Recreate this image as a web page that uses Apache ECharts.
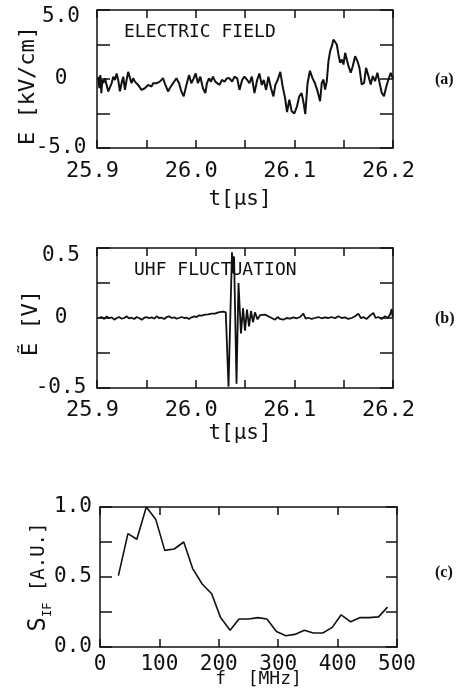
<!DOCTYPE html>
<html>
<head>
<meta charset="utf-8">
<title>Electric field, UHF fluctuation and spectrum</title>
<script src="https://cdn.jsdelivr.net/npm/echarts@6/dist/echarts.min.js"></script>
<style>
  html, body { margin: 0; padding: 0; background: #fff; }
  #chart { width: 456px; height: 698px; }
</style>
</head>
<body>
<div id="chart"></div>
<script>
// (a) electric field, t [us] / E [kV/cm]
var fieldTime = [
  25.9013, 25.9024, 25.9034, 25.9044, 25.9054, 25.9064, 25.9081, 25.9098, 25.9114, 25.9131,
  25.9148, 25.9165, 25.9182, 25.9199, 25.9215, 25.9232, 25.9249, 25.9266, 25.9283, 25.9300,
  25.9316, 25.9333, 25.9350, 25.9367, 25.9384, 25.9417, 25.9451, 25.9485, 25.9518, 25.9552,
  25.9569, 25.9603, 25.9636, 25.9670, 25.9687, 25.9720, 25.9737,
  25.9771, 25.9805, 25.9832, 25.9855, 25.9879, 25.9906, 25.9933, 25.9956, 25.9980, 26.0000,
  26.0023, 26.0047, 26.0074, 26.0098, 26.0114, 26.0135, 26.0155, 26.0175, 26.0199, 26.0219,
  26.0242, 26.0266, 26.0293, 26.0316, 26.0343, 26.0370, 26.0394, 26.0421, 26.0444, 26.0471,
  26.0495,
  26.0522, 26.0545, 26.0569, 26.0596, 26.0623, 26.0646, 26.0670, 26.0690, 26.0714, 26.0737,
  26.0764, 26.0788, 26.0808, 26.0831, 26.0858, 26.0882, 26.0906, 26.0926, 26.0949, 26.0973,
  26.1000, 26.1027, 26.1050, 26.1074, 26.1094, 26.1111, 26.1134, 26.1158, 26.1185, 26.1209,
  26.1236,
  26.1261, 26.1278, 26.1295, 26.1312, 26.1329, 26.1346, 26.1363, 26.1380, 26.1397, 26.1413,
  26.1430, 26.1447, 26.1464, 26.1481, 26.1498, 26.1515, 26.1532, 26.1549, 26.1572, 26.1592,
  26.1616, 26.1640, 26.1660, 26.1683, 26.1707, 26.1727, 26.1751, 26.1774, 26.1795, 26.1818,
  26.1842, 26.1862, 26.1886, 26.1909, 26.1929, 26.1953, 26.1977, 26.2000
]
var fieldValue = [
  0.17, -0.67, 0.29, -1.02, -0.07, -0.31, 0.05, -0.07, -0.90, -1.02,
  -0.31, 0.17, -0.07, 0.40, -0.07, -0.90, -0.31, 0.17, -0.79, -0.07,
  0.52, 0.64, -0.31, 0.05, -0.19, -0.43, -0.79, -0.67, -0.43, -0.55,
  -0.31, -0.31, -0.19, 0.05, -0.31, -0.90, -0.67,
  -0.31, 0.05, -0.31, -0.90, -1.26, -0.43, 0.29, -0.31, 0.05, 0.40,
  -0.31, 0.17, -0.67, -1.02, -0.31, 0.05, -0.19, 0.17, -0.19, -0.07,
  -0.43, -0.07, -0.19, 0.05, 0.05, -0.19, 0.17, 0.05, -0.79, -0.07,
  0.17,
  -0.07, -0.31, 0.17, -1.02, -0.07, 0.40, -0.43, -0.07, -0.79, 0.17,
  -0.67, -1.26, -0.43, -0.07, 0.52, -0.55, -1.38, -2.40, -1.50, -2.33,
  -2.50, -1.98, -1.26, -1.02, -1.74, -2.55, -0.31, 0.60, 0.05, -0.31,
  -0.90,
  -1.61, -0.28, -0.04, -0.76, -0.16, 1.29, 2.02, 2.38, 2.86, 2.91,
  2.50, 1.78, 1.17, 1.41, 1.05, 1.90, 1.41, 0.93, 0.45, 0.93,
  1.65, 1.29, 0.81, -0.40, -0.28, 0.81, 0.21, -0.40, 0.21, -0.16,
  0.45, 0.57, -1.01, -1.25, -0.64, -0.04, 0.45, 0.00
]

// (b) UHF fluctuation, t [us] / V
var uhfTime = [
  25.9014, 25.9047, 25.9074, 25.9098, 25.9122, 25.9149, 25.9176, 25.9199, 25.9223, 25.9250,
  25.9277, 25.9301, 25.9324, 25.9351, 25.9378, 25.9402, 25.9426, 25.9453, 25.9480, 25.9503,
  25.9527, 25.9554, 25.9581, 25.9605, 25.9628, 25.9655, 25.9682, 25.9706, 25.9730, 25.9757,
  25.9784, 25.9807, 25.9831, 25.9858, 25.9885, 25.9909, 25.9932, 25.9959, 25.9986, 26.0010,
  26.0034, 26.0061, 26.0095, 26.0128, 26.0162, 26.0196, 26.0230, 26.0257, 26.0280, 26.0305,
  26.0333, 26.0368, 26.0381, 26.0389, 26.0414, 26.0434, 26.0459, 26.0480, 26.0500, 26.0520,
  26.0541, 26.0561, 26.0581, 26.0601, 26.0627, 26.0652,
  26.0669, 26.0703, 26.0736, 26.0770, 26.0804, 26.0831, 26.0855, 26.0888, 26.0922, 26.0956,
  26.0990, 26.1024, 26.1057, 26.1091, 26.1115, 26.1142, 26.1176, 26.1209, 26.1243, 26.1277,
  26.1311, 26.1345, 26.1378, 26.1412, 26.1446, 26.1480, 26.1513, 26.1547, 26.1581, 26.1615,
  26.1649, 26.1676, 26.1699, 26.1733, 26.1767, 26.1801, 26.1824, 26.1851, 26.1885, 26.1919,
  26.1946, 26.1970, 26.1987, 26.1997
]
var uhfValue = [
  0, 0.007, -0.007, 0.012, -0.002, 0.005, -0.012, 0, 0.007, -0.005,
  0, 0.012, -0.002, 0.002, -0.007, 0.007, 0, -0.012, 0.002, 0.007,
  -0.002, 0.005, -0.005, 0.012, 0, 0.002, -0.007, 0.007, 0.012, 0,
  0.005, -0.005, 0, 0.007, 0, 0.002, -0.007, 0.005, 0.012, 0.007,
  0.019, 0.017, 0.024, 0.026, 0.031, 0.031, 0.040, 0.043, 0.045, 0.040,
  -0.49, 0.47, 0.32, 0.44, -0.47, 0.25, -0.11, 0.07, -0.09, 0.06,
  -0.06, 0.05, -0.03, 0.04, -0.01, 0.02,
  0.007, 0.024, 0.012, 0, -0.012, 0.007, -0.007, -0.012, 0, -0.005,
  0.005, -0.002, 0.007, 0.031, -0.005, 0.002, -0.007, 0, 0.007, -0.002,
  0.005, 0, 0.007, -0.002, 0.012, 0, 0.005, -0.007, 0, 0.012,
  0.031, -0.002, 0.007, -0.007, 0.017, 0.036, 0, 0.007, -0.007, 0.012,
  0, 0.024, 0.064, 0.007
]

// (c) spectrum, f [MHz] / S_IF [A.U.]
var freq = [31, 47, 62, 78, 94, 109, 125, 141, 156, 172, 188, 203, 219, 234, 250,
  266, 281, 297, 313, 328, 344, 359, 375, 391, 406, 422, 438, 453, 469, 484]
var spectrum = [0.51, 0.81, 0.77, 1.0, 0.91, 0.69, 0.70, 0.75, 0.56, 0.45, 0.38, 0.21, 0.12, 0.20, 0.20,
  0.21, 0.20, 0.11, 0.08, 0.09, 0.12, 0.10, 0.10, 0.14, 0.23, 0.18, 0.21, 0.21, 0.215, 0.285]

var ink = '#111'
var mono = 'DejaVu Sans Mono'

function zip(xs, ys) {
  return xs.map(function (x, i) { return [x, ys[i]] })
}

// one side of a plot frame: line + inward ticks, no labels
function frame(gridIndex, position, scale, tickLen, minor) {
  var axis = {
    type: 'value',
    gridIndex: gridIndex,
    position: position,
    axisLine: { show: true, onZero: false, lineStyle: { color: ink, width: 1.5 } },
    axisTick: { show: true, inside: true, length: tickLen, lineStyle: { color: ink, width: 1.5 } },
    axisLabel: { show: false },
    splitLine: { show: false }
  }
  if (minor) {
    axis.minorTick = { show: true, splitNumber: 2, length: tickLen, lineStyle: { color: ink, width: 1.5 } }
  }
  return Object.assign(axis, scale)
}

var timeScale = { min: 25.9, max: 26.2, interval: 0.1 }
var fieldScale = { min: -5, max: 5, interval: 2.5 }
var uhfScale = { min: -0.5, max: 0.5, interval: 0.25 }
var freqScale = { min: 0, max: 500, interval: 100 }
var specScale = { min: 0, max: 1, interval: 0.25 }

function timeAxis(gridIndex, margin, gap) {
  var a = frame(gridIndex, 'bottom', timeScale, 8, true)
  a.axisLabel = {
    show: true, margin: margin, fontFamily: mono, fontSize: 22, color: ink,
    padding: [0, 9, 0, 0],
    formatter: function (v) { return v.toFixed(1) }
  }
  a.name = 't[μs]'
  a.nameLocation = 'middle'
  a.nameGap = gap
  a.nameMoveOverlap = false
  a.nameTextStyle = { fontFamily: mono, fontSize: 21, color: ink, padding: [0, 10, 0, 0] }
  return a
}

function sideLabel(gridIndex, scale, top, labels, name, gap, shift) {
  var a = frame(gridIndex, 'left', scale, 13, false)
  a.axisLabel = {
    show: true, margin: 36, align: 'center', fontFamily: mono, fontSize: 21, color: ink,
    formatter: function (v) {
      if (v === scale.max) return '{top|' + labels[0] + '}'
      if (v === 0) return labels[1]
      if (v === scale.min) return labels[2]
      return ''
    },
    rich: { top: { padding: [top, 0, 0, 0], fontFamily: mono, fontSize: 21, color: ink } }
  }
  a.name = name
  a.nameLocation = 'middle'
  a.nameRotate = 90
  a.nameGap = gap
  a.nameMoveOverlap = false
  a.nameTextStyle = { fontFamily: mono, fontSize: 22, color: ink, padding: [0, shift, 0, 0] }
  return a
}

var freqAxis = frame(2, 'bottom', freqScale, 8, false)
freqAxis.axisLabel = { show: true, margin: 7, fontFamily: mono, fontSize: 21, color: ink }
freqAxis.name = 'f  [MHz]'
freqAxis.nameLocation = 'middle'
freqAxis.nameGap = 23
freqAxis.nameMoveOverlap = false
freqAxis.nameTextStyle = { fontFamily: mono, fontSize: 18, color: ink, padding: [0, 0, 0, 20] }

var specAxis = frame(2, 'left', specScale, 12, false)
specAxis.axisLabel = {
  show: true, margin: 8, fontFamily: mono, fontSize: 21, color: ink,
  formatter: function (v) { return (v === 0 || v === 0.5 || v === 1) ? v.toFixed(1) : '' }
}
specAxis.name = '{s|S}{sub|IF}{n| [A.U.]}'
specAxis.nameLocation = 'middle'
specAxis.nameRotate = 90
specAxis.nameGap = 46
specAxis.nameMoveOverlap = false
specAxis.nameTextStyle = {
  rich: {
    s: { fontFamily: mono, fontSize: 24, lineHeight: 30, color: ink, verticalAlign: 'middle' },
    sub: { fontFamily: mono, fontSize: 12, color: ink, verticalAlign: 'bottom' },
    n: { fontFamily: mono, fontSize: 19, color: ink, verticalAlign: 'middle' }
  }
}

function trace(xi, yi, data, width) {
  return {
    type: 'line',
    xAxisIndex: xi,
    yAxisIndex: yi,
    data: data,
    showSymbol: false,
    silent: true,
    lineStyle: { color: ink, width: width }
  }
}

function note(text, left, top, font) {
  return { type: 'text', left: left, top: top, silent: true, style: { text: text, font: font, fill: ink } }
}

var chart = echarts.init(document.getElementById('chart'))
chart.setOption({
  backgroundColor: '#fff',
  animation: false,
  grid: [
    { left: 97, top: 10, width: 296, height: 138, outerBoundsMode: 'none' },
    { left: 97, top: 248, width: 296, height: 140, outerBoundsMode: 'none' },
    { left: 100, top: 507, width: 297, height: 140, outerBoundsMode: 'none' }
  ],
  xAxis: [
    timeAxis(0, 12, 41),
    frame(0, 'top', timeScale, 8, true),
    timeAxis(1, 11, 35),
    frame(1, 'top', timeScale, 8, true),
    freqAxis,
    frame(2, 'top', freqScale, 8, false)
  ],
  yAxis: [
    sideLabel(0, fieldScale, 14, ['5.0', '0', '-5.0'], 'E [kV/cm]', 58, 13),
    frame(0, 'right', fieldScale, 13, false),
    sideLabel(1, uhfScale, 15, ['0.5', '0', '-0.5'], 'Ẽ [V]', 55, 10),
    frame(1, 'right', uhfScale, 13, false),
    specAxis,
    frame(2, 'right', specScale, 11, false)
  ],
  graphic: [
    note('ELECTRIC FIELD', 124, 23, '18px "DejaVu Sans Mono"'),
    note('UHF FLUCTUATION', 134, 261, '18px "DejaVu Sans Mono"'),
    note('(a)', 435, 72, 'bold 16px "Liberation Serif"'),
    note('(b)', 435, 311, 'bold 16px "Liberation Serif"'),
    note('(c)', 435, 565, 'bold 16px "Liberation Serif"')
  ],
  series: [
    trace(0, 0, zip(fieldTime, fieldValue), 2),
    trace(2, 2, zip(uhfTime, uhfValue), 1.8),
    trace(4, 4, zip(freq, spectrum), 1.6)
  ]
})
</script>
</body>
</html>
